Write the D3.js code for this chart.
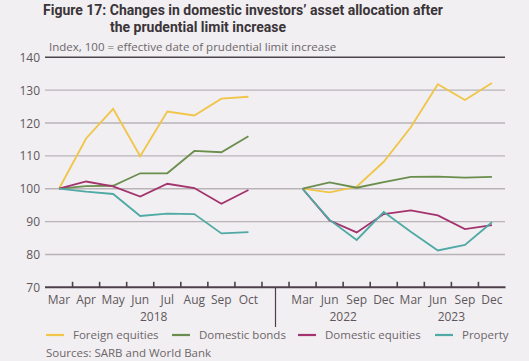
<!DOCTYPE html>
<html>
<head>
<meta charset="utf-8">
<script src="https://cdn.jsdelivr.net/npm/d3@7"></script>
<style>
  html, body { margin: 0; padding: 0; background: #f1eff1; }
  svg { display: block; font-family: 'Open Sans', 'DejaVu Sans', sans-serif; }
</style>
</head>
<body>
<svg id="chart" width="529" height="361"></svg>
<script>
/* global d3 */

// categories
const months2018 = ['Mar', 'Apr', 'May', 'Jun', 'Jul', 'Aug', 'Sep', 'Oct'];
const quarters = ['Mar', 'Jun', 'Sep', 'Dec', 'Mar', 'Jun', 'Sep', 'Dec'];
const quarterYears = ['2022', '2022', '2022', '2022', '2023', '2023', '2023', '2023'];
const yTicks = [70, 80, 90, 100, 110, 120, 130, 140];

// series, 2018 months then 2022-23 quarters
const foreign2018 = [100, 115.3, 124.3, 109.9, 123.5, 122.3, 127.4, 128.0];
const foreign2223 = [100, 98.9, 100.6, 108.2, 118.7, 131.8, 127.0, 132.2];
const bonds2018 = [100, 100.8, 100.9, 104.7, 104.7, 111.5, 111.1, 116.0];
const bonds2223 = [100, 101.9, 100.3, 102.0, 103.6, 103.7, 103.4, 103.6];
const equities2018 = [100, 102.2, 100.7, 97.6, 101.5, 100.2, 95.4, 99.6];
const equities2223 = [100, 90.3, 86.7, 92.3, 93.4, 91.9, 87.7, 88.9];
const property2018 = [100, 99.1, 98.4, 91.7, 92.4, 92.3, 86.4, 86.8];
const property2223 = [100, 90.5, 84.4, 92.9, 86.9, 81.2, 82.9, 89.8];

const seriesNames = ['Foreign equities', 'Domestic bonds', 'Domestic equities', 'Property'];
const seriesColors = ['#f0c548', '#6b8e4e', '#a3326e', '#4fa9a4'];

const svg = d3.select('#chart');

// slot keys: 8 months, a gap, 8 quarters
const keys2018 = months2018.map(m => `2018-${m}`);
const keys2223 = quarters.map((q, i) => `${quarterYears[i]}-${q}`);
const slots = [...keys2018, 'gap', ...keys2223];

const x = d3.scaleBand().domain(slots).range([45.5, 505.5]);
const y = d3.scaleLinear().domain([70, 140]).range([287.3, 57.3]);
const cx = k => x(k) + x.bandwidth() / 2;

// title, hanging indent on second line
svg.append('text')
  .attr('x', 43).attr('y', 15)
  .attr('fill', '#3b3439')
  .style('font-family', 'Roboto, sans-serif')
  .style('font-size', '14px')
  .style('font-weight', 'bold')
  .text('Figure 17: Changes in domestic investors\u2019 asset allocation after');
svg.append('text')
  .attr('x', 110).attr('y', 31.5)
  .attr('fill', '#3b3439')
  .style('font-family', 'Roboto, sans-serif')
  .style('font-size', '14px')
  .style('font-weight', 'bold')
  .text('the prudential limit increase');

svg.append('text')
  .attr('x', 49).attr('y', 51)
  .attr('fill', '#6d666b')
  .style('font-size', '11.5px')
  .text('Index, 100 = effective date of prudential limit increase');

// gridlines
svg.append('g').selectAll('line')
  .data(yTicks.filter(v => v > 70))
  .join('line')
  .attr('x1', 45).attr('x2', 505)
  .attr('y1', d => y(d)).attr('y2', d => y(d))
  .attr('stroke', d => (d === 140 ? '#4d454b' : '#b9b3b8'))
  .attr('stroke-width', d => (d === 140 ? 1.6 : 1.4));

// y labels
svg.append('g').selectAll('text')
  .data(yTicks)
  .join('text')
  .attr('x', 40)
  .attr('y', d => y(d) + 4.5)
  .attr('text-anchor', 'end')
  .attr('fill', '#5f575d')
  .style('font-size', '12px')
  .text(d => d);

// x axis line and ticks
svg.append('line')
  .attr('x1', 45).attr('x2', 505.5)
  .attr('y1', y(70)).attr('y2', y(70))
  .attr('stroke', '#4d404a').attr('stroke-width', 2);

svg.append('g').selectAll('line')
  .data(slots.slice(1).map(k => x(k)))
  .join('line')
  .attr('x1', d => d).attr('x2', d => d)
  .attr('y1', y(70) - 5.5).attr('y2', y(70))
  .attr('stroke', '#4d404a').attr('stroke-width', 1.6);

// separator between the two periods
svg.append('line')
  .attr('x1', cx('gap')).attr('x2', cx('gap'))
  .attr('y1', y(70)).attr('y2', 327)
  .attr('stroke', '#4d404a').attr('stroke-width', 1.2);

// month labels
const labelKeys = [...keys2018, ...keys2223];
const labelText = [...months2018, ...quarters];
svg.append('g').selectAll('text')
  .data(labelKeys)
  .join('text')
  .attr('x', d => cx(d))
  .attr('y', 303.5)
  .attr('text-anchor', 'middle')
  .attr('fill', '#5f575d')
  .style('font-size', '12px')
  .text((d, i) => labelText[i]);

// year labels
const yearGroups = [
  ['2018', keys2018],
  ['2022', keys2223.slice(0, 4)],
  ['2023', keys2223.slice(4)],
];
svg.append('g').selectAll('text')
  .data(yearGroups)
  .join('text')
  .attr('x', d => (cx(d[1][0]) + cx(d[1][d[1].length - 1])) / 2)
  .attr('y', 320.5)
  .attr('text-anchor', 'middle')
  .attr('fill', '#5f575d')
  .style('font-size', '12px')
  .text(d => d[0]);

// lines
const series = [
  [foreign2018, foreign2223],
  [bonds2018, bonds2223],
  [equities2018, equities2223],
  [property2018, property2223],
];
const line = d3.line().x(d => cx(d[0])).y(d => y(d[1]));

series.forEach((s, i) => {
  [[keys2018, s[0]], [keys2223, s[1]]].forEach(([ks, vals]) => {
    svg.append('path')
      .datum(ks.map((k, j) => [k, vals[j]]))
      .attr('d', line)
      .attr('fill', 'none')
      .attr('stroke', seriesColors[i])
      .attr('stroke-width', 1.8)
      .attr('stroke-linejoin', 'miter');
  });
});

// legend
const legendX = [46, 172, 298, 435];
const legend = svg.append('g').selectAll('g')
  .data(seriesNames)
  .join('g')
  .attr('transform', (d, i) => `translate(${legendX[i]},335)`);
legend.append('line')
  .attr('x1', 0).attr('x2', 18)
  .attr('stroke', (d, i) => seriesColors[i])
  .attr('stroke-width', 2.2);
legend.append('text')
  .attr('x', 27).attr('y', 4)
  .attr('fill', '#6d666b')
  .style('font-size', '11.5px')
  .text(d => d);

svg.append('text')
  .attr('x', 46).attr('y', 357)
  .attr('fill', '#6d666b')
  .style('font-size', '11.5px')
  .text('Sources: SARB and World Bank');
</script>
</body>
</html>
